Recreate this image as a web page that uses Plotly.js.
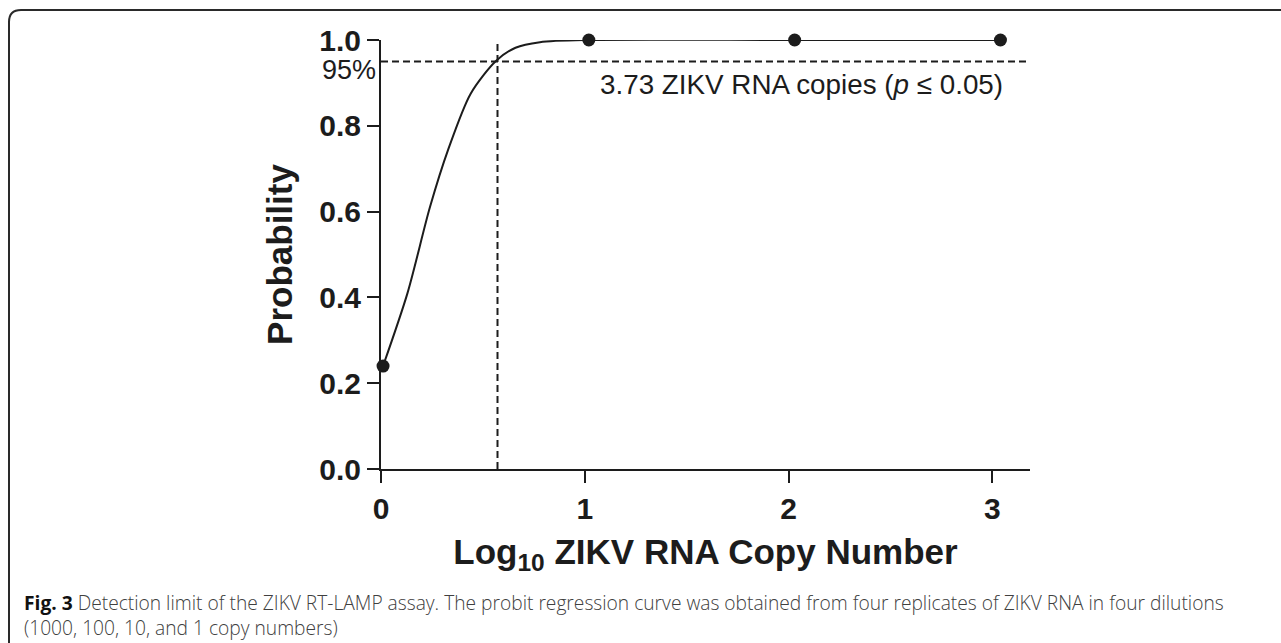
<!DOCTYPE html>
<html>
<head>
<meta charset="utf-8">
<script src="https://cdn.plot.ly/plotly-3.0.1.min.js"></script>
<style>
  html, body { margin: 0; padding: 0; background: #ffffff; }
  #chart { width: 1281px; height: 643px; }
</style>
</head>
<body>
<div id="chart"></div>
<script>
// ---- data ----
const pointX = [0.01, 1.02, 2.03, 3.04];          // log10 copy number (observed dilutions)
const pointY = [0.24, 1.0, 1.0, 1.0];             // detection probability
const curveX = [0.01, 0.13, 0.24, 0.33, 0.44, 0.564, 0.66, 0.78, 1.02, 2.03, 3.04];
const curveY = [0.24, 0.41, 0.61, 0.745, 0.875, 0.951, 0.982, 0.995, 1.0, 1.0, 1.0];
const lodCopies = 3.73;                            // copies at 95 % probability
const probLevel = 0.95;
const xTicks = [0, 1, 2, 3];
const yTicks = [0.0, 0.2, 0.4, 0.6, 0.8, 1.0];
const xMax = 3.185;

const lodX = Math.log10(lodCopies);
const ink = '#1c1c1c';
const axisFont = 'Liberation Sans, Arial, sans-serif';

const traces = [
  { // probit curve
    x: curveX, y: curveY, mode: 'lines', type: 'scatter',
    line: { color: ink, width: 2, shape: 'spline', smoothing: 0.8 },
    hoverinfo: 'skip', cliponaxis: false, showlegend: false
  },
  { // horizontal 95% line
    x: [0, xMax], y: [probLevel, probLevel], mode: 'lines', type: 'scatter',
    line: { color: ink, width: 2, dash: '7px,4px' }, cliponaxis: false, showlegend: false
  },
  { // vertical LOD line
    x: [lodX, lodX], y: [0, 1], mode: 'lines', type: 'scatter',
    line: { color: ink, width: 2, dash: '7px,4px' }, cliponaxis: false, showlegend: false
  },
  { // observed points
    x: pointX, y: pointY, mode: 'markers', type: 'scatter',
    marker: { color: ink, size: 13 }, cliponaxis: false, showlegend: false
  }
];

// paper-coordinate helpers for the frame (plot area: 381..1030 px wide, 40..469.3 px tall)
const L = 381, R = 1030, T = 40, B = 469.3;
const px = v => (v - L) / (R - L);
const py = v => (B - v) / (B - T);
const rr = 12;
const framePath =
  'M ' + px(9) + ',' + py(640 + 20) +
  ' L ' + px(9) + ',' + py(10 + rr) +
  ' Q ' + px(9) + ',' + py(10) + ' ' + px(9 + rr) + ',' + py(10) +
  ' L ' + px(1300) + ',' + py(10);

const captionFont = { family: 'Open Sans, sans-serif', size: 19.2, color: '#404040', weight: 300 };

const layout = {
  width: 1281, height: 643,
  margin: { l: 381, r: 251, t: 40, b: 174 },
  paper_bgcolor: '#ffffff', plot_bgcolor: '#ffffff',
  showlegend: false,
  font: { family: axisFont, color: ink },
  xaxis: {
    range: [0, xMax], tickvals: xTicks, ticktext: xTicks.map(String),
    showline: true, linecolor: ink, linewidth: 2,
    ticks: 'outside', ticklen: 12, tickwidth: 2, tickcolor: ink,
    showgrid: false, zeroline: false,
    tickfont: { family: axisFont, size: 30, color: ink, weight: 'bold' },
    title: { text: '<b>Log<sub>10</sub> ZIKV RNA Copy Number</b>', font: { family: axisFont, size: 35, color: ink }, standoff: 15 }
  },
  yaxis: {
    range: [0, 1], tickvals: yTicks, ticktext: yTicks.map(v => v.toFixed(1)),
    showline: true, linecolor: ink, linewidth: 2,
    ticks: 'outside', ticklen: 12, tickwidth: 2, tickcolor: ink,
    showgrid: false, zeroline: false,
    tickfont: { family: axisFont, size: 30, color: ink, weight: 'bold' },
    title: { text: '<b>Probability</b>', font: { family: axisFont, size: 35, color: ink }, standoff: 16 }
  },
  shapes: [
    { type: 'path', xref: 'paper', yref: 'paper', path: framePath, line: { color: '#2a2a2a', width: 2 } }
  ],
  annotations: [
    { xref: 'paper', yref: 'y', x: 0, y: probLevel, xanchor: 'right', yanchor: 'middle',
      xshift: -3, yshift: -9, showarrow: false, text: '95%',
      font: { family: axisFont, size: 27, color: ink } },
    { xref: 'x', yref: 'y', x: 1.065, y: probLevel, xanchor: 'left', yanchor: 'middle',
      yshift: -23, showarrow: false,
      text: lodCopies.toFixed(2) + ' ZIKV RNA copies (<i>p</i> ≤ 0.05)',
      font: { family: axisFont, size: 27.8, color: ink } },
    { xref: 'paper', yref: 'paper', x: px(22), y: py(603), xanchor: 'left', yanchor: 'middle',
      showarrow: false, align: 'left',
      text: '<b style="color:#111">Fig. 3</b> Detection limit of the ZIKV RT-LAMP assay. The probit regression curve was obtained from four replicates of ZIKV RNA in four dilutions',
      font: captionFont },
    { xref: 'paper', yref: 'paper', x: px(22), y: py(628), xanchor: 'left', yanchor: 'middle',
      showarrow: false, align: 'left',
      text: '(1000, 100, 10, and 1 copy numbers)',
      font: captionFont }
  ]
};

Plotly.newPlot('chart', traces, layout, { displayModeBar: false, staticPlot: true });
</script>
</body>
</html>
